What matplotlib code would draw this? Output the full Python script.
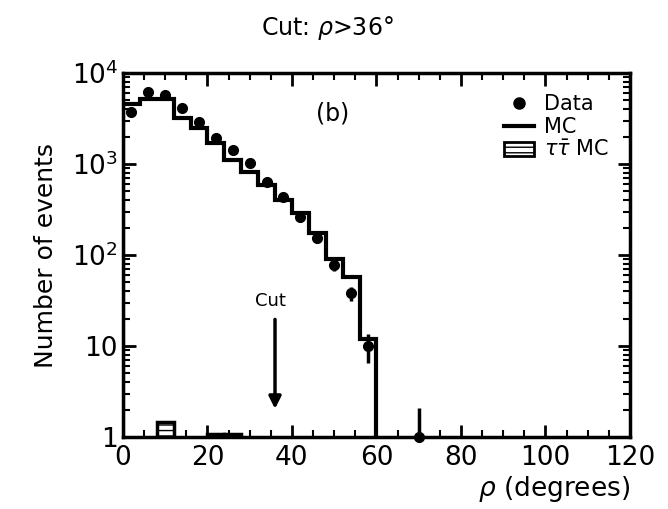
import matplotlib.pyplot as plt
import numpy as np
from matplotlib.lines import Line2D
from matplotlib.patches import Patch
from matplotlib.ticker import FixedLocator, FixedFormatter, MultipleLocator, LogLocator

# histogram binning (degrees)
bin_edges = [0, 4, 8, 12, 16, 20, 24, 28, 32, 36, 40, 44, 48, 52, 56, 60]

# full MC prediction
mc_counts = [4600, 5200, 5200, 3200, 2500, 1700, 1100, 815, 590, 400, 290, 174, 90, 57, 12]

# tau-pair MC
tau_counts = [1.0, 1.0, 1.45, 1.0, 1.0, 1.08, 1.08, 1.0, 1.0, 1.0, 1.0, 1.0, 1.0, 1.0, 1.0]

# data points
data_x = [2, 6, 10, 14, 18, 22, 26, 30, 34, 38, 42, 46, 50, 54, 58, 70]
data_counts = [3700, 6200, 5700, 4150, 2900, 1950, 1420, 1020, 630, 435, 262, 155, 78, 38, 10, 1]
data_err_lo = [250, 500, 450, 300, 220, 150, 110, 80, 50, 40, 30, 20, 12, 7, 3.5, 0]
data_err_hi = [250, 700, 450, 300, 220, 150, 110, 80, 50, 40, 30, 20, 12, 7, 3.5, 1.1]

cut_value = 36

plt.rcParams['font.family'] = 'DejaVu Sans'

fig = plt.figure(figsize=(6.68, 5.09), dpi=100)
ax = fig.add_axes([0.184, 0.1415, 0.759, 0.715])

ax.set_yscale('log')
ax.set_xlim(0, 120)
ax.set_ylim(1, 1e4)

# tau MC (hatched boxes), only where it sits above the axis
for left, val in zip(bin_edges[:-1], tau_counts):
    if val > 1.01:
        ax.bar(left, val - 1, bottom=1, width=4, align='edge', facecolor='white',
               edgecolor='black', hatch='---', linewidth=2.5, zorder=2)

# MC histogram
ax.stairs(mc_counts, bin_edges, baseline=1, color='black', linewidth=3, zorder=3)

# data: error bars clipped to the frame, markers allowed to sit on the axis
ax.errorbar(data_x, data_counts, yerr=[data_err_lo, data_err_hi], fmt='none', ecolor='black',
            elinewidth=2.5, capsize=0, zorder=4)
ax.plot(data_x, data_counts, 'o', color='black', markersize=7, zorder=5, clip_on=False)

# cut arrow
ax.annotate('', xy=(cut_value, 1.9), xytext=(cut_value, 21),
            arrowprops=dict(arrowstyle='-|>', color='black', lw=2.5, mutation_scale=18))
ax.text(cut_value - 1, 25, 'Cut', ha='center', va='bottom', fontsize=13)

ax.text(0.414, 0.89, '(b)', transform=ax.transAxes, ha='center', va='center',
        fontsize=17)

# ticks
ax.yaxis.set_major_locator(FixedLocator([1, 10, 100, 1000, 10000]))
ax.yaxis.set_major_formatter(FixedFormatter(['1', '10', '10$^{2}$', '10$^{3}$', '10$^{4}$']))
ax.yaxis.set_minor_locator(LogLocator(base=10, subs=np.arange(2, 10)))
ax.yaxis.set_minor_formatter(FixedFormatter([]))
ax.xaxis.set_major_locator(MultipleLocator(20))
ax.xaxis.set_minor_locator(MultipleLocator(5))
ax.tick_params(which='both', direction='in', top=True, right=True, labelsize=19)
ax.tick_params(which='major', length=9, width=2)
ax.tick_params(which='minor', length=5, width=1.5)
ax.tick_params(axis='x', pad=6)
for sp in ax.spines.values():
    sp.set_linewidth(2.5)

ax.set_ylabel('Number of events', fontsize=18, labelpad=10)
ax.set_xlabel(r'$\rho$ (degrees)', fontsize=19, loc='right', labelpad=2)
fig.text(0.49, 0.945, r'Cut: $\rho$>36°', ha='center', va='center', fontsize=17)

handles = [
    Line2D([], [], marker='o', color='black', linestyle='none', markersize=8),
    Line2D([], [], color='black', linewidth=3),
    Patch(facecolor='white', edgecolor='black', hatch='---', linewidth=2),
]
labels = ['Data', 'MC', r'$\tau\bar{\tau}$ MC']
ax.legend(handles, labels, loc='upper right', frameon=False, fontsize=15,
          handlelength=1.4, handletextpad=0.5, labelspacing=0.15,
          borderaxespad=0.6)

fig.savefig('out.png', dpi=100)
